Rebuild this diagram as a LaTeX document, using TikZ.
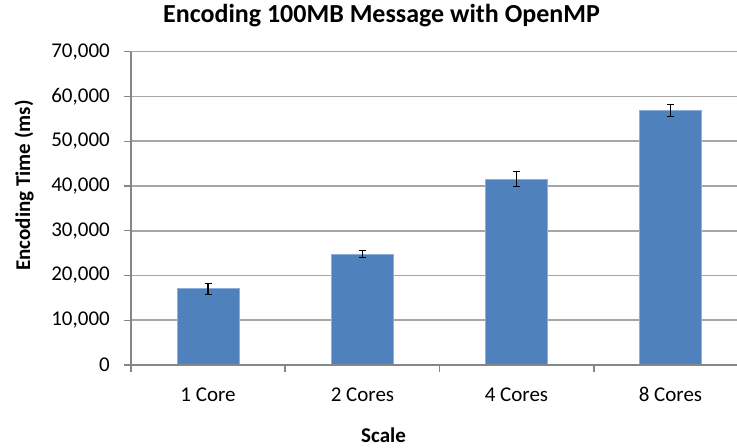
\documentclass[tikz,border=0pt]{standalone}
\usepackage{fontspec}
\setmainfont{Carlito}
\definecolor{barblue}{HTML}{4F81BD}
\definecolor{barborder}{HTML}{8EAEDB}
\definecolor{gridgray}{HTML}{A6A6A6}
\definecolor{axisgray}{HTML}{868686}
\begin{document}
\begin{tikzpicture}[x=1bp,y=-1bp,
  hgrid/.style={draw=gridgray, line width=1.6bp},
  axisline/.style={draw=axisgray, line width=1.3bp},
  barbox/.style={fill=barblue, draw=barborder, line width=0.9bp},
  errbar/.style={draw=black, line width=1.1bp},
  ticklabel/.style={font=\fontsize{21bp}{24bp}\selectfont, inner sep=0pt},
  axistitle/.style={font=\bfseries\fontsize{21bp}{24bp}\selectfont, inner sep=0pt},
  charttitle/.style={font=\bfseries\fontsize{26bp}{30bp}\selectfont, inner sep=0pt}]
\useasboundingbox (0,0) rectangle (737,448);
\fill[white] (0,0) rectangle (737,448);
% gridlines
\foreach \v in {1,...,7} {
  \pgfmathsetmacro{\gy}{365-44.76*\v}
  \draw[hgrid] (131,\gy) -- (737,\gy);
}
% y ticks and labels
\foreach \v/\t in {0/0,1/10{,}000,2/20{,}000,3/30{,}000,4/40{,}000,5/50{,}000,6/60{,}000,7/70{,}000} {
  \draw[axisline] (124,{365-44.76*\v}) -- (131,{365-44.76*\v});
  \node[ticklabel, anchor=east] (yl\v) at (110,{365-44.76*\v}) {\t};
}
% bars
\foreach \i/\c/\val/\e in {1/208/1.700/0.12, 2/362.5/2.477/0.085, 3/516.5/4.154/0.175, 4/670.5/5.688/0.135} {
  \path[barbox] (\c-31,365) rectangle (\c+31,{365-44.76*\val});
  \coordinate (eb\i) at (\c,{365-44.76*(\val+\e)});
  \coordinate (ee\i) at (\c,{365-44.76*(\val-\e)});
  \draw[errbar] (eb\i) -- (ee\i);
  \draw[errbar] ([xshift=-3.5bp]eb\i) -- ([xshift=3.5bp]eb\i);
  \draw[errbar] ([xshift=-3.5bp]ee\i) -- ([xshift=3.5bp]ee\i);
}
% axes
\draw[axisline] (131,52) -- (131,372);
\draw[axisline] (124,365) -- (737,365);
\foreach \x in {285,439.5,594}
  \draw[axisline] (\x,365) -- (\x,372);
% category labels
\node[ticklabel, anchor=base] (c1) at (208,401) {1 Core};
\node[ticklabel, anchor=base] (c2) at (362.5,401) {2 Cores};
\node[ticklabel, anchor=base] (c3) at (516.5,401) {4 Cores};
\node[ticklabel, anchor=base] (c4) at (670.5,401) {8 Cores};
% titles
\node[charttitle, anchor=base] (title) at (381.5,23) {Encoding 100MB Message with OpenMP};
\node[axistitle, anchor=base] (xt) at (383.5,442) {Scale};
\node[axistitle, rotate=90, anchor=base] (yt) at (30,185.5) {Encoding Time (ms)};
\end{tikzpicture}
\end{document}
